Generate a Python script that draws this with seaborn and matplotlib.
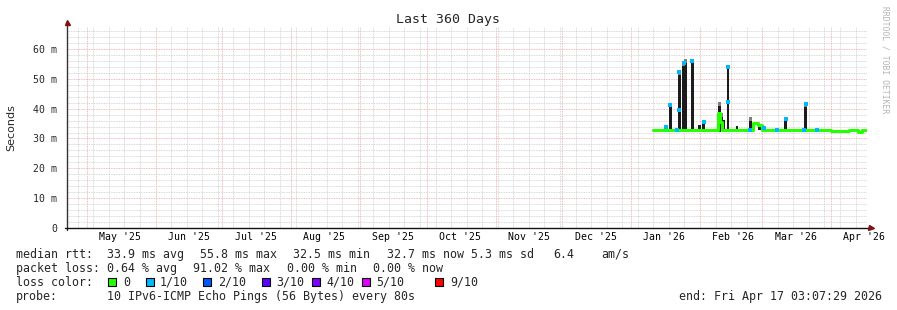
import numpy as np
import pandas as pd
import matplotlib
matplotlib.use("Agg")
import matplotlib.pyplot as plt
import matplotlib.dates as mdates
from matplotlib.ticker import MultipleLocator, NullFormatter
from matplotlib.patches import Rectangle
from matplotlib.transforms import blended_transform_factory
import seaborn as sns

# ---------------- data ----------------
end_time = "2026-04-17 03:07:29"
span_days = 360

# median RTT (ms), step changes
median_dates = ["2026-01-11 00:00", "2026-02-09 00:00", "2026-02-10 00:00", "2026-02-11 00:00",
                "2026-02-12 00:00", "2026-02-25 00:00", "2026-02-27 00:00", "2026-03-01 00:00",
                "2026-04-01 00:00", "2026-04-09 00:00", "2026-04-13 00:00", "2026-04-15 00:00",
                "2026-04-16 20:00"]
median_vals = [32.9, 38.5, 35.5, 32.9,
               32.9, 35.3, 34.5, 32.9,
               32.6, 32.9, 32.3, 32.7,
               32.7]

# smoke (spread of pings), ms
smoke_dates = ["2026-01-16", "2026-01-18", "2026-01-22", "2026-01-24", "2026-01-25",
               "2026-01-28", "2026-01-31", "2026-02-02", "2026-02-09", "2026-02-10",
               "2026-02-11", "2026-02-13", "2026-02-17", "2026-02-23", "2026-02-27",
               "2026-03-11", "2026-03-20"]
smoke_lo = [32.3, 32.3, 32.3, 32.3, 32.3,
            32.3, 32.3, 32.3, 32.3, 33.0,
            32.8, 32.6, 32.3, 32.3, 32.8,
            32.3, 32.3]
smoke_hi = [34.4, 41.6, 52.6, 55.6, 56.5,
            56.4, 34.6, 35.6, 42.2, 38.5,
            36.2, 54.4, 34.3, 37.2, 34.4,
            36.9, 41.9]

# median points with packet loss (1/10)
loss_dates = ["2026-01-16", "2026-01-18", "2026-01-21", "2026-01-22", "2026-01-22",
              "2026-01-24", "2026-01-28", "2026-02-02", "2026-02-13", "2026-02-13",
              "2026-02-23", "2026-03-01", "2026-03-07", "2026-03-11", "2026-03-19",
              "2026-03-20", "2026-03-25"]
loss_vals = [34.0, 41.3, 32.9, 52.3, 39.5,
             55.3, 56.0, 35.4, 53.8, 42.2,
             32.9, 33.5, 32.9, 36.6, 32.9,
             41.6, 32.9]

y_ticks = [0, 10, 20, 30, 40, 50, 60]
y_tick_labels = ["0", "10 m", "20 m", "30 m", "40 m", "50 m", "60 m"]
month_starts = ["2025-05-01", "2025-06-01", "2025-07-01", "2025-08-01", "2025-09-01",
                "2025-10-01", "2025-11-01", "2025-12-01", "2026-01-01", "2026-02-01",
                "2026-03-01", "2026-04-01"]
month_labels = ["May '25", "Jun '25", "Jul '25", "Aug '25", "Sep '25", "Oct '25",
                "Nov '25", "Dec '25", "Jan '26", "Feb '26", "Mar '26", "Apr '26"]

loss_names = ["0", "1/10", "2/10", "3/10", "4/10", "5/10", "9/10"]
loss_colors = ["#26ff00", "#00b8ff", "#0059ff", "#5e00ff", "#7e00ff", "#dd00ff", "#ff0000"]

# ---------------- figure ----------------
sns.set_style("white")
plt.rcParams["font.family"] = ["DejaVu Sans Mono", "DejaVu Sans"]

W, H = 897, 310
fig = plt.figure(figsize=(W / 100, H / 100), dpi=100)
fig.patch.set_facecolor("white")


def fx(px):
    return px / W


def fy(py):
    return 1 - py / H


ax_bottom, ax_top = 228, 26.6
ax = fig.add_axes([fx(67), fy(ax_bottom), 800 / W, (ax_bottom - ax_top) / H])
ax.set_facecolor("white")

end = pd.Timestamp(end_time)
start = end - pd.Timedelta(days=span_days)

ax.xaxis.set_major_locator(mdates.MonthLocator())
ax.xaxis.set_minor_locator(mdates.WeekdayLocator(byweekday=mdates.SU))

# smoke
sx = pd.to_datetime(smoke_dates, format="%Y-%m-%d")
lo = np.array(smoke_lo)
hi = np.array(smoke_hi)
ax.bar(sx, hi - lo, bottom=lo, width=1.25, align="edge", color="#1c1c1c",
       linewidth=0, zorder=2)
tall = (hi - lo) > 4
ax.bar(sx[tall], np.full(tall.sum(), 1.2), bottom=hi[tall] - 1.2, width=1.25,
       align="edge", color="#808080", linewidth=0, zorder=2)

# median line
med_df = pd.DataFrame({"date": pd.to_datetime(median_dates, format="%Y-%m-%d %H:%M"),
                       "rtt": median_vals})
sns.lineplot(data=med_df, x="date", y="rtt", drawstyle="steps-post",
             color=loss_colors[0], linewidth=2.2, ax=ax, zorder=3, legend=False)

# loss-colored median points
loss_df = pd.DataFrame({"date": pd.to_datetime(loss_dates, format="%Y-%m-%d")
                        + pd.Timedelta(hours=14),
                        "rtt": loss_vals})
sns.scatterplot(data=loss_df, x="date", y="rtt", marker="s", s=6,
                color=loss_colors[1], linewidth=0, ax=ax, zorder=4, legend=False)
ax.set_xlabel("")
ax.set_ylabel("")

ax.set_xlim(start, end)
ax.set_ylim(0, 67.5)
ax.xaxis.set_major_locator(mdates.MonthLocator())
ax.xaxis.set_minor_locator(mdates.WeekdayLocator(byweekday=mdates.SU))
ax.xaxis.set_major_formatter(NullFormatter())
ax.xaxis.set_minor_formatter(NullFormatter())
ax.set_yticks(y_ticks, labels=y_tick_labels)
ax.yaxis.set_minor_locator(MultipleLocator(2))
ax.set_axisbelow(True)
ax.grid(which="minor", color="#cccccc", linestyle=(0, (1, 1)), linewidth=0.6)
ax.grid(which="major", color="#f3a0a0", linestyle=(0, (1, 1)), linewidth=0.6)
ax.tick_params(axis="x", which="both", length=0)
ax.tick_params(axis="y", which="both", length=2, color="#555555", pad=5,
               labelsize=7.1, width=0.7)
for s in ax.spines.values():
    s.set_visible(False)

# axes lines + arrows
ax.plot([0, 0], [-0.01, 1.02], transform=ax.transAxes, color="#333333",
        lw=1.0, clip_on=False, zorder=5)
ax.plot([-0.003, 1.004], [0, 0], transform=ax.transAxes, color="#111111",
        lw=1.0, clip_on=False, zorder=5)
ax.plot([0], [1.025], marker="^", ms=3.6, color="#7f1414",
        transform=ax.transAxes, clip_on=False, zorder=6)
ax.plot([1.005], [0], marker=">", ms=3.6, color="#7f1414",
        transform=ax.transAxes, clip_on=False, zorder=6)

# month labels centred in month
trans = blended_transform_factory(ax.transData, ax.transAxes)
label_y = -(237.3 - ax_bottom) / (ax_bottom - ax_top)
for d, lab in zip(pd.to_datetime(month_starts, format="%Y-%m-%d"), month_labels):
    ax.text(d + pd.Timedelta(days=15), label_y, lab, transform=trans,
            ha="center", va="center", fontsize=7.1, color="black")

# titles
fig.text(fx(447.5), fy(19), "Last 360 Days", ha="center", va="center", fontsize=9.5)
fig.text(fx(11), fy(127.5), "Seconds", rotation=90, ha="center", va="center",
         fontsize=8, family="DejaVu Sans")
fig.text(fx(885), fy(60), "RRDTOOL / TOBI OETIKER", rotation=270, ha="center",
         va="center", fontsize=5.8, color="#b4b4b4")

# legend area
fs = 8.35
row1 = [("median rtt:", 16), ("33.9 ms avg", 107.3), ("55.8 ms max", 200),
        ("32.5 ms min", 293.3), ("32.7 ms now", 386.7), ("5.3 ms sd", 470.7),
        ("6.4", 553.3), ("am/s", 601.7)]
for t, x in row1:
    fig.text(fx(x), fy(254.3), t, ha="left", va="center", fontsize=fs)
row2 = [("packet loss:", 16), ("0.64 % avg", 107.3), ("91.02 % max", 193.3),
        ("0.00 % min", 286.7), ("0.00 % now", 372.7)]
for t, x in row2:
    fig.text(fx(x), fy(268.3), t, ha="left", va="center", fontsize=fs)

fig.text(fx(16), fy(282.3), "loss color:", ha="left", va="center", fontsize=fs)
box_x = [108, 146, 203, 262, 312, 362, 435]
lab_x = [123, 160, 218, 276, 326, 376, 450]
for bx, lx, name, col in zip(box_x, lab_x, loss_names, loss_colors):
    fig.add_artist(Rectangle((fx(bx), fy(286.3)), 8 / W, 8 / H,
                             transform=fig.transFigure, facecolor=col,
                             edgecolor="black", linewidth=0.8))
    fig.text(fx(lx), fy(282.3), name, ha="left", va="center", fontsize=fs)

fig.text(fx(16), fy(296.7), "probe:", ha="left", va="center", fontsize=fs)
fig.text(fx(107.3), fy(296.7), "10 IPv6-ICMP Echo Pings (56 Bytes) every 80s",
         ha="left", va="center", fontsize=fs)
fig.text(fx(882), fy(296.7), "end: Fri Apr 17 03:07:29 2026", ha="right",
         va="center", fontsize=fs)

fig.savefig("out.png", dpi=100, facecolor="white")
